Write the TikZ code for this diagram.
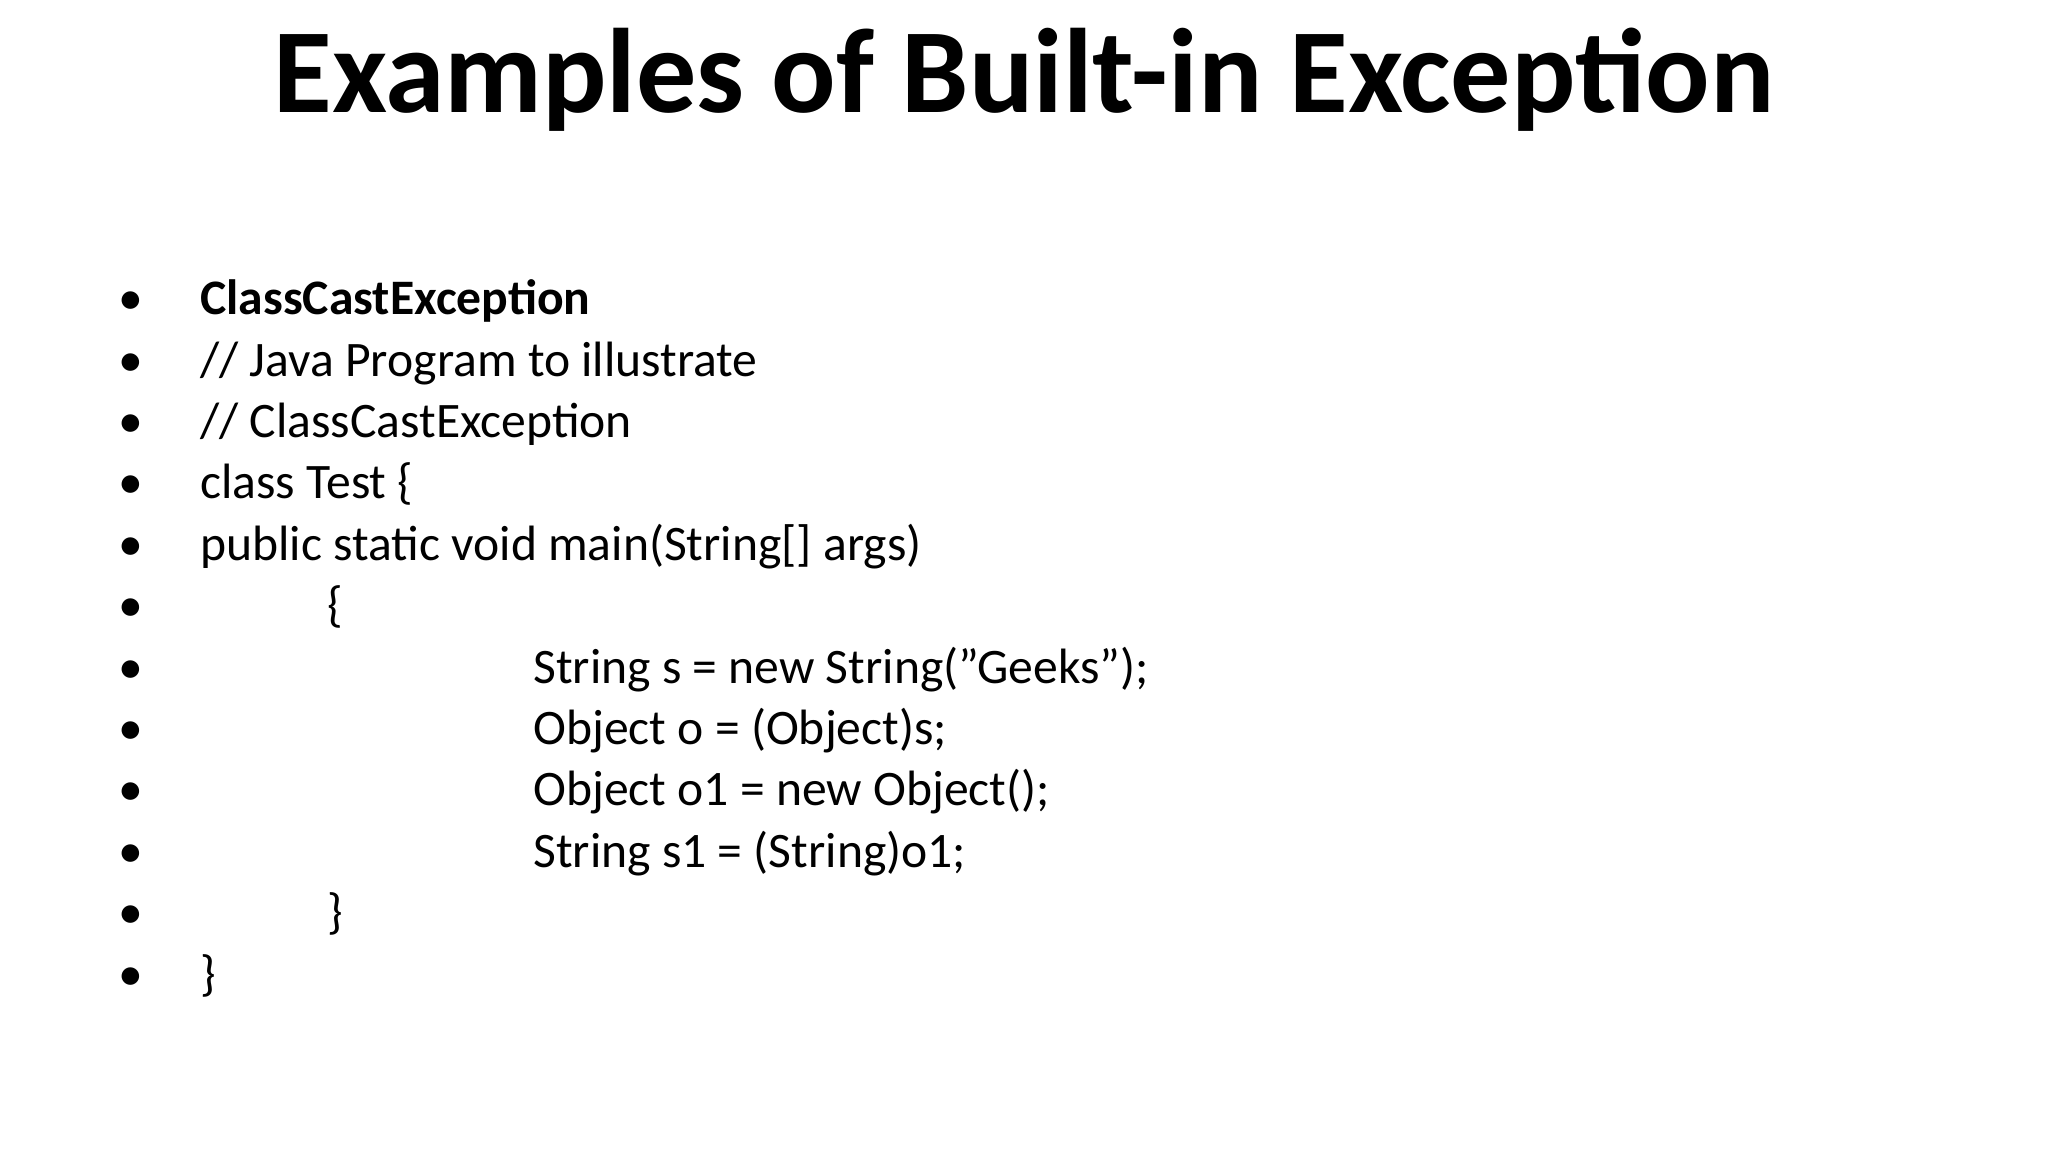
\documentclass[tikz,border=0pt]{standalone}
\usepackage{fontspec}
\setmainfont{Carlito}
\begin{document}
\begin{tikzpicture}[x=0.5pt,y=-0.5pt,
  ln/.style={anchor=base west,inner sep=0pt,font=\fontsize{19}{23}\selectfont},
  bl/.style={anchor=base,inner sep=0pt,font=\fontsize{19}{23}\selectfont}]
\useasboundingbox (0,0) rectangle (1568,882);
\node[anchor=base,inner sep=0pt,font=\fontsize{46}{55}\selectfont\bfseries] (title) at (784,86) {Examples of Built-in Exception};
\foreach \i/\x/\t in {0/153/{\bfseries ClassCastException},1/153/{// Java Program to illustrate},2/153/{// ClassCastException},3/153/{class Test \{},4/153/{public static void main(String[] args)},5/250/{\{},6/408/{String s = new String("Geeks");},7/408/{Object o = (Object)s;},8/408/{Object o1 = new Object();},9/408/{String s1 = (String)o1;},10/250/{\}},11/153/{\}}}{
  \node[bl] (b\i) at (100,{241+47*\i}) {•};
  \node[ln] (t\i) at (\x,{241+47*\i}) {\t};
}
\end{tikzpicture}
\end{document}
